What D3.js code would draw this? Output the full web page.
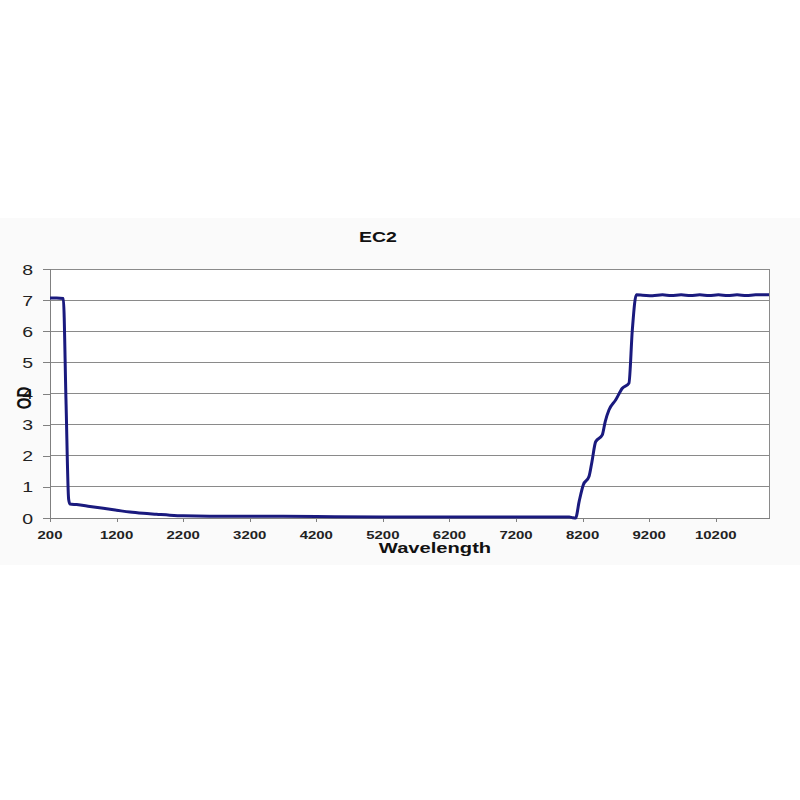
<!DOCTYPE html>
<html>
<head>
<meta charset="utf-8">
<script src="https://cdn.jsdelivr.net/npm/d3@7"></script>
<style>
  html, body { margin: 0; padding: 0; background: #ffffff; }
  svg { display: block; }
  text { font-family: "Liberation Sans", Arial, sans-serif; }
</style>
</head>
<body>
<svg id="chart" width="800" height="800"></svg>
<script>
const title = "EC2";
const xLabel = "Wavelength";
const yLabel = "OD";
const xTicks = [200, 1200, 2200, 3200, 4200, 5200, 6200, 7200, 8200, 9200, 10200];
const yTicks = [0, 1, 2, 3, 4, 5, 6, 7, 8];

const wavelength = [200, 300, 400, 440, 480, 500, 600, 800, 1000, 1200, 1400, 1600, 1800, 2000, 2200, 2600,
  3200, 3600, 4200, 5200, 6200, 7200, 7900, 8000, 8050, 8095,
  8150, 8210, 8296, 8340, 8396, 8496, 8540, 8596, 8696, 8797, 8896, 8947, 9007,
  9100, 9250, 9400, 9530, 9680, 9820, 9960, 10100, 10240, 10380, 10520, 10660, 10800, 11000];
const od = [7.07, 7.07, 7.05, 3.8, 0.6, 0.45, 0.43, 0.37, 0.31, 0.25, 0.19, 0.15, 0.12, 0.09, 0.07, 0.06,
  0.06, 0.06, 0.05, 0.03, 0.03, 0.03, 0.03, 0.03, 0.01, 0.0,
  0.55, 1.06, 1.33, 1.8, 2.45, 2.67, 3.1, 3.47, 3.79, 4.17, 4.33, 6.04, 7.17,
  7.16, 7.14, 7.17, 7.15, 7.17, 7.15, 7.17, 7.15, 7.17, 7.15, 7.17, 7.15, 7.17, 7.17];

const svg = d3.select("#chart");
const SX = 1.3; // horizontal stretch of the reference glyphs

svg.append("rect").attr("x", 0).attr("y", 218).attr("width", 800).attr("height", 347).attr("fill", "#fafafa");

const margin = {left: 50, right: 31, top: 269, bottom: 282};
const W = 800 - margin.left - margin.right;
const H = 800 - margin.top - margin.bottom;

const x = d3.scaleLinear().domain([200, 11000]).range([margin.left, margin.left + W]);
const y = d3.scaleLinear().domain([0, 8]).range([margin.top + H, margin.top]);

svg.append("rect").attr("x", margin.left).attr("y", margin.top).attr("width", W).attr("height", H).attr("fill", "#ffffff");

svg.append("g").selectAll("line").data(yTicks.filter(d => d > 0)).join("line")
  .attr("x1", margin.left).attr("x2", margin.left + W)
  .attr("y1", d => y(d)).attr("y2", d => y(d))
  .attr("stroke", "#8a8a8a").attr("stroke-width", 1).attr("shape-rendering", "crispEdges");

svg.append("line").attr("x1", margin.left + W).attr("x2", margin.left + W)
  .attr("y1", margin.top).attr("y2", margin.top + H)
  .attr("stroke", "#8a8a8a").attr("stroke-width", 1).attr("shape-rendering", "crispEdges");

const yAxis = d3.axisLeft(y).tickValues(yTicks).tickSize(7).tickFormat(() => "");
const gy = svg.append("g").attr("transform", `translate(${margin.left},0)`).call(yAxis);
gy.selectAll("path, line").attr("stroke", "#808080").attr("shape-rendering", "crispEdges");

const xAxis = d3.axisBottom(x).tickValues(xTicks).tickSize(4).tickSizeOuter(0).tickFormat(() => "");
const gx = svg.append("g").attr("transform", `translate(0,${margin.top + H})`).call(xAxis);
gx.selectAll("path, line").attr("stroke", "#808080").attr("shape-rendering", "crispEdges");

svg.append("g").selectAll("text").data(yTicks).join("text")
  .attr("transform", d => `translate(33,${y(d) + 5.5}) scale(${SX},1)`)
  .attr("text-anchor", "end").attr("font-size", 15).attr("fill", "#222")
  .text(d => d);

svg.append("g").selectAll("text").data(xTicks).join("text")
  .attr("transform", d => `translate(${x(d)},${margin.top + H + 21}) scale(${SX},1)`)
  .attr("text-anchor", "middle").attr("font-size", 11.5).attr("font-weight", "bold").attr("fill", "#222")
  .text(d => d);

const line = d3.line().x(d => x(d[0])).y(d => y(d[1])).curve(d3.curveMonotoneX);
svg.append("path").datum(wavelength.map((w, i) => [w, od[i]]))
  .attr("d", line).attr("fill", "none").attr("stroke", "#1a1a7e").attr("stroke-width", 3)
  .attr("stroke-linejoin", "round");

svg.append("text").attr("transform", `translate(378,242) scale(${SX},1)`)
  .attr("text-anchor", "middle").attr("font-size", 15).attr("font-weight", "bold").attr("fill", "#111")
  .text(title);

svg.append("text").attr("transform", `translate(435,553) scale(${SX},1)`)
  .attr("text-anchor", "middle").attr("font-size", 15.5).attr("font-weight", "bold").attr("fill", "#111")
  .text(xLabel);

svg.append("text").attr("transform", `translate(31,398) scale(${SX},1) rotate(-90)`)
  .attr("text-anchor", "middle").attr("font-size", 15).attr("font-weight", "bold").attr("fill", "#111")
  .text(yLabel);
</script>
</body>
</html>
